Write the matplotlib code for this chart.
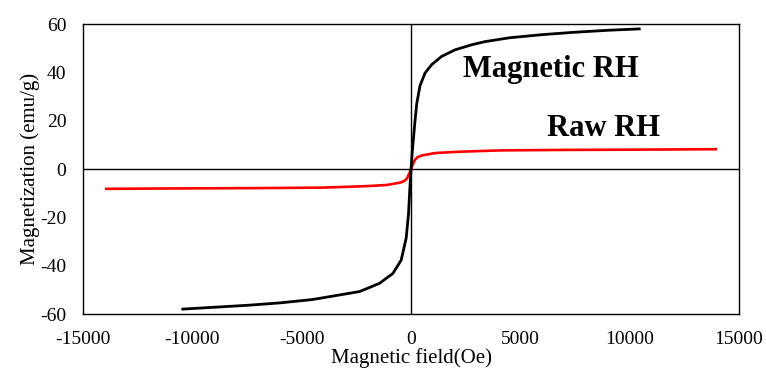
import matplotlib
matplotlib.use("Agg")
import matplotlib.pyplot as plt

plt.rcParams['font.family'] = ['Liberation Serif', 'DejaVu Serif']

# Magnetic RH
mag_x = [-10500, -9000, -7500, -6000, -4500, -3260, -2350, -1440, -830, -450, -220, -115, -60,
         0, 60, 183, 260, 411, 640, 945, 1400, 2010, 2770, 3380, 4500, 6000, 7500, 9000, 10500]
mag_y = [-58.0, -57.2, -56.4, -55.4, -54.0, -52.1, -50.7, -47.3, -43.2, -37.7, -28.5, -18.5, -9.0,
         0.0, 7.5, 20.0, 27.0, 34.5, 39.7, 43.2, 46.6, 49.3, 51.4, 52.7, 54.3, 55.6, 56.6, 57.4, 58.0]

# Raw RH
raw_x = [-14000, -10000, -7000, -4070, -2380, -1860, -1100, -490, -300, -180, -60,
         0, 60, 180, 300, 490, 1100, 1860, 2380, 4070, 7000, 10000, 14000]
raw_y = [-8.2, -8.0, -7.9, -7.7, -7.2, -7.0, -6.6, -5.6, -4.9, -3.8, -1.4,
         0.0, 1.4, 3.8, 4.9, 5.6, 6.6, 7.0, 7.2, 7.7, 7.9, 8.0, 8.2]

xticks = [-15000, -10000, -5000, 0, 5000, 10000, 15000]
yticks = [-60, -40, -20, 0, 20, 40, 60]

fig = plt.figure(figsize=(7.66, 3.71), dpi=100)
ax = fig.add_axes([0.1084, 0.1536, 0.8564, 0.7817])

ax.axhline(0, color='black', lw=1.0, zorder=1)
ax.axvline(0, color='black', lw=1.0, zorder=1)
ax.plot(raw_x, raw_y, color='#ff0000', lw=1.9, solid_capstyle='butt', solid_joinstyle='round', zorder=2)
ax.plot(mag_x, mag_y, color='black', lw=2.0, solid_capstyle='butt', solid_joinstyle='round', zorder=3)

ax.set_xlim(-15000, 15000)
ax.set_ylim(-60, 60)
ax.set_xticks(xticks)
ax.set_yticks(yticks)
ax.set_xticklabels([str(t) for t in xticks])
ax.set_yticklabels([str(t) for t in yticks])
ax.tick_params(axis='both', length=0, labelsize=14, colors='black')
ax.tick_params(axis='y', pad=12)
ax.tick_params(axis='x', pad=12)
for s in ax.spines.values():
    s.set_linewidth(1.0)
    s.set_color('black')

ax.set_xlabel('Magnetic field(Oe)', fontsize=15)
ax.set_ylabel('Magnetization (emu/g)', fontsize=15)
ax.xaxis.set_label_coords(0.5, -0.118)
ax.yaxis.set_label_coords(-0.066, 0.5)

ax.text(2370, 38.2, 'Magnetic RH', fontsize=22, fontweight='bold', ha='left', va='baseline')
ax.text(6200, 13.6, 'Raw RH', fontsize=22, fontweight='bold', ha='left', va='baseline')

fig.savefig('out.png', dpi=100)
